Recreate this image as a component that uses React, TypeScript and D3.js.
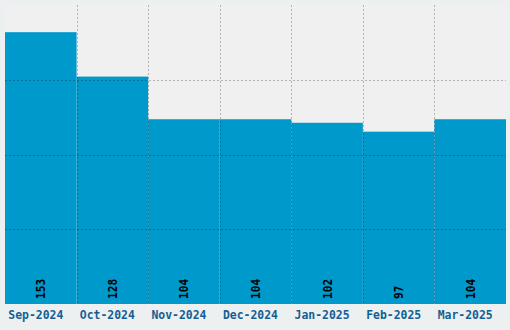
import React from "react";
import * as d3 from "d3";

const categories = ["Sep-2024", "Oct-2024", "Nov-2024", "Dec-2024", "Jan-2025", "Feb-2025", "Mar-2025"];
const values = [153, 128, 104, 104, 102, 97, 104];
const gridDivisions = 4;

const W = 510;
const H = 330;
const left = 5;
const right = 506;
const top = 5;
const bottom = 304;

export default function App() {
  const yMax = d3.max(values)! * 1.1;
  const x = d3.scaleBand<string>().domain(categories).range([left, right]).padding(0);
  const y = d3.scaleLinear().domain([0, yMax]).range([bottom, top]);
  const gridYs = d3.range(1, gridDivisions).map((i) => top + ((bottom - top) * i) / gridDivisions);
  const gridXs = categories.slice(1).map((c) => x(c)!);
  const font = "'DejaVu Sans Mono', 'Liberation Mono', monospace";
  return (
    <svg width={W} height={H} style={{ position: "absolute", left: 0, top: 0, display: "block" }}>
      <rect x={0} y={0} width={W} height={H} fill="#edf0f1" />
      <rect x={left} y={top} width={right - left} height={bottom - top} fill="#f0f0f0" />
      {categories.map((c, i) => (
        <rect key={c} x={x(c)!} y={y(values[i])} width={x.bandwidth()} height={bottom - y(values[i])} fill="#0099cc" />
      ))}
      {gridYs.map((gy) => (
        <line key={"h" + gy} x1={left} x2={right} y1={Math.round(gy) + 0.5} y2={Math.round(gy) + 0.5}
          stroke="rgba(0,0,0,0.25)" strokeDasharray="2,2" />
      ))}
      {gridXs.map((gx) => (
        <line key={"v" + gx} x1={Math.round(gx) + 0.5} x2={Math.round(gx) + 0.5} y1={top} y2={bottom}
          stroke="rgba(0,0,0,0.25)" strokeDasharray="2,2" />
      ))}
      {categories.map((c, i) => {
        const cx = x(c)! + x.bandwidth() / 2 + 4.5;
        const cy = bottom - 5;
        const s = String(values[i]);
        return (
          <text key={"v" + c} transform={`translate(${cx},${cy}) rotate(-90)`} fontFamily={font} fontWeight="bold"
            fontSize={13} fill="#000" textLength={s.length * 6.7} lengthAdjust="spacingAndGlyphs">
            {s}
          </text>
        );
      })}
      {categories.map((c) => (
        <text key={"l" + c} x={x(c)! + x.bandwidth() / 2 - 5} y={318.5} textAnchor="middle" fontFamily={font}
          fontWeight="bold" fontSize={12.3} fill="#135f94" textLength={55} lengthAdjust="spacingAndGlyphs">
          {c}
        </text>
      ))}
    </svg>
  );
}
